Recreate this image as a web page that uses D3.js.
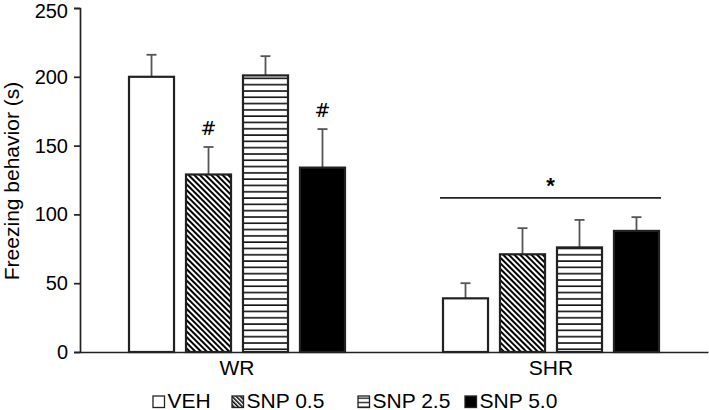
<!DOCTYPE html>
<html>
<head>
<meta charset="utf-8">
<script src="https://cdn.jsdelivr.net/npm/d3@7"></script>
<style>
  html, body { margin: 0; padding: 0; background: #fff; }
  svg { display: block; font-family: "Liberation Sans", Arial, sans-serif; }
</style>
</head>
<body>
<svg id="chart" width="709" height="410"></svg>
<script>
// ---- data ----
const groups = ["WR", "SHR"];
const series = ["VEH", "SNP 0.5", "SNP 2.5", "SNP 5.0"];
const meansWR  = [200, 129, 201, 134];
const meansSHR = [39, 71, 76, 88];
const semWR  = [16, 20, 14, 28];
const semSHR = [11, 19, 20, 10];
const marksWR  = ["", "#", "", "#"];
const marksSHR = ["", "", "", ""];
const yTicks = [0, 50, 100, 150, 200, 250];
const groupStarValue = 112;   // SHR significance line level
const groupStar = "*";

const means = [meansWR, meansSHR];
const sems = [semWR, semSHR];
const marks = [marksWR, marksSHR];

const W = 709, H = 410;
const margin = {left: 80, right: 1, top: 8, bottom: 58};
const svg = d3.select("#chart");

const defs = svg.append("defs");
// diagonal hatch
const diag = defs.append("pattern").attr("id", "diag")
  .attr("patternUnits", "userSpaceOnUse").attr("width", 4).attr("height", 4)
  .attr("patternTransform", "rotate(-45)");
diag.append("rect").attr("width", 4).attr("height", 4).attr("fill", "#fff");
diag.append("rect").attr("width", 2).attr("height", 4).attr("fill", "#000");
// horizontal stripes
const horiz = defs.append("pattern").attr("id", "horiz")
  .attr("patternUnits", "userSpaceOnUse").attr("width", 10).attr("height", 6.3);
horiz.append("rect").attr("width", 10).attr("height", 6.3).attr("fill", "#fff");
horiz.append("rect").attr("y", 2).attr("width", 10).attr("height", 1.6).attr("fill", "#111");
// small legend versions
const diagS = defs.append("pattern").attr("id", "diagS")
  .attr("patternUnits", "userSpaceOnUse").attr("width", 3).attr("height", 3)
  .attr("patternTransform", "rotate(-45)");
diagS.append("rect").attr("width", 3).attr("height", 3).attr("fill", "#fff");
diagS.append("rect").attr("width", 1.5).attr("height", 3).attr("fill", "#000");
const horizS = defs.append("pattern").attr("id", "horizS")
  .attr("patternUnits", "userSpaceOnUse").attr("width", 10).attr("height", 4.5);
horizS.append("rect").attr("width", 10).attr("height", 4.5).attr("fill", "#fff");
horizS.append("rect").attr("y", 1.5).attr("width", 10).attr("height", 1.3).attr("fill", "#111");

const fills = ["#fff", "url(#diag)", "url(#horiz)", "#000"];
const legendFills = ["#fff", "url(#diagS)", "url(#horizS)", "#000"];

const y = d3.scaleLinear().domain([0, 250]).range([352, margin.top]);
const x0 = d3.scaleBand().domain(groups).range([margin.left, W - margin.right]).padding(0);
const x1 = d3.scaleBand().domain(series).range([49, 265]).paddingInner(0.21).paddingOuter(0);

const FONT = "Liberation Sans, Arial, sans-serif";

// axes
const yAxis = d3.axisLeft(y).tickValues(yTicks).tickSize(6).tickPadding(6);
const gy = svg.append("g").attr("transform", `translate(${margin.left},0)`).call(yAxis);
gy.select(".domain").attr("stroke", "#222").attr("stroke-width", 1.7);
gy.selectAll(".tick line").attr("stroke", "#222").attr("stroke-width", 1.7);
gy.selectAll(".tick text").attr("font-size", 20).attr("fill", "#000")
  .attr("font-family", FONT)
  .attr("dy", d => d === yTicks[yTicks.length - 1] ? "0.45em" : "0.32em");

const xAxis = d3.axisBottom(x0).tickSize(0).tickPadding(8);
const gx = svg.append("g").attr("transform", `translate(0,${y(0)})`).call(xAxis);
gx.select(".domain").attr("stroke", "#222").attr("stroke-width", 1.7);
gx.selectAll(".tick text").attr("font-size", 21).attr("fill", "#000")
  .attr("font-family", FONT);

// bars
groups.forEach((g, gi) => {
  const gg = svg.append("g").attr("transform", `translate(${x0(g)},0)`);
  series.forEach((s, si) => {
    const v = means[gi][si], e = sems[gi][si];
    const cx = x1(s) + x1.bandwidth() / 2;
    // error bar (upward)
    gg.append("line").attr("x1", cx).attr("x2", cx).attr("y1", y(v)).attr("y2", y(v + e))
      .attr("stroke", "#555").attr("stroke-width", 1.8);
    gg.append("line").attr("x1", cx - 5).attr("x2", cx + 5).attr("y1", y(v + e)).attr("y2", y(v + e))
      .attr("stroke", "#555").attr("stroke-width", 1.8);
    gg.append("rect").attr("x", x1(s)).attr("y", y(v))
      .attr("width", x1.bandwidth()).attr("height", y(0) - y(v))
      .attr("fill", fills[si]).attr("stroke", "#222").attr("stroke-width", 2.2);
    if (marks[gi][si]) {
      gg.append("text").attr("x", cx).attr("y", y(v + e) - 12)
        .attr("text-anchor", "middle").attr("font-size", 19).attr("fill", "#000")
        .attr("font-family", "DejaVu Sans, sans-serif")
        .text(marks[gi][si]);
    }
  });
});

// SHR significance line
{
  const g = "SHR";
  const xa = x0(g) + x1(series[0]) - 3;
  const xb = x0(g) + x1(series[series.length - 1]) + x1.bandwidth() + 2;
  svg.append("line").attr("x1", xa).attr("x2", xb)
    .attr("y1", y(groupStarValue)).attr("y2", y(groupStarValue))
    .attr("stroke", "#222").attr("stroke-width", 1.6);
  svg.append("text").attr("x", (xa + xb) / 2).attr("y", y(groupStarValue) - 5)
    .attr("text-anchor", "middle").attr("font-size", 22).attr("fill", "#000")
    .attr("font-weight", "bold")
    .text(groupStar);
}

// y label
svg.append("text")
  .attr("transform", `translate(19,${181}) rotate(-90)`)
  .attr("text-anchor", "middle").attr("font-size", 21).attr("fill", "#000")
  .text("Freezing behavior (s)");

// legend
const legendX = [153, 232, 358, 465];
const leg = svg.append("g");
series.forEach((s, i) => {
  leg.append("rect").attr("x", legendX[i]).attr("y", 396).attr("width", 11.5).attr("height", 11.5)
    .attr("fill", legendFills[i]).attr("stroke", "#222").attr("stroke-width", 1.3);
  leg.append("text").attr("x", legendX[i] + 14.5).attr("y", 407.5)
    .attr("font-size", 21).attr("fill", "#000").text(s);
});
</script>
</body>
</html>
